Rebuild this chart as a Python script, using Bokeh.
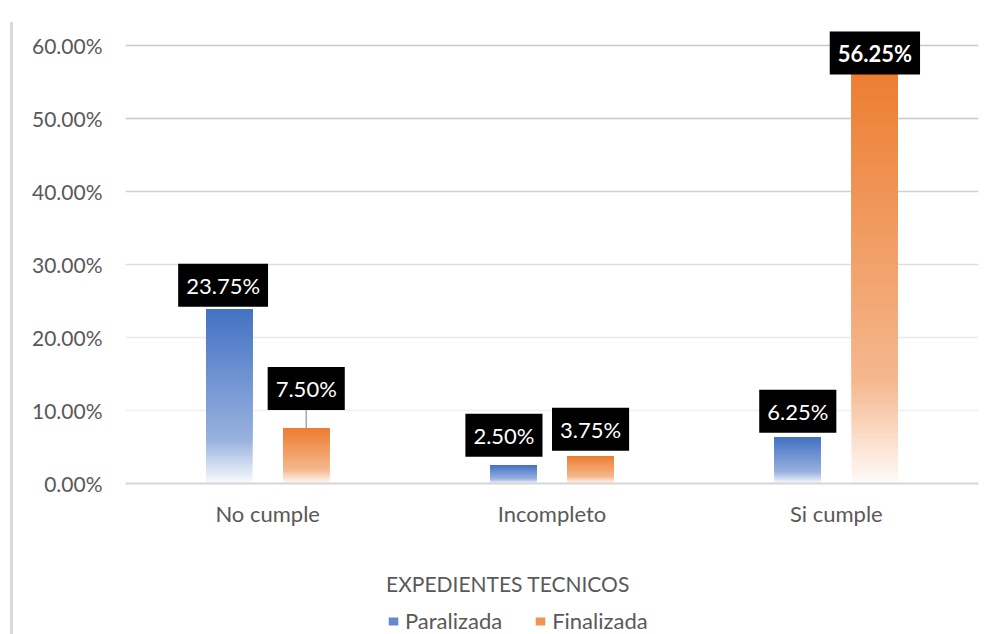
import numpy as np
from bokeh.plotting import figure
from bokeh.models import (ColumnDataSource, FactorRange, Range1d, FixedTicker,
                          PrintfTickFormatter, Grid, Legend, LegendItem, Label, Div)
from bokeh.layouts import row
from bokeh.transform import dodge
from bokeh.core.properties import value
from bokeh.embed import file_html
from bokeh.resources import INLINE

# ---------------- data ----------------
categories = ["No cumple", "Incompleto", "Si cumple"]
series_names = ["Paralizada", "Finalizada"]
paralizada = [23.75, 2.50, 6.25]
finalizada = [7.50, 3.75, 56.25]
y_ticks = [0, 10, 20, 30, 40, 50, 60]
axis_title = "EXPEDIENTES TECNICOS"

# ---------------- styles ----------------
FONT = "Lato"
TEXT_GRAY = "#595959"
BASE_RGB = [(68, 114, 196), (237, 125, 49)]
BAR_W = 0.162
OFFSETS = [-0.1356, 0.1356]
N_SLICES = 100
Y_MIN, Y_MAX = -20.7, 62      # lower part of the frame holds axis labels, title, legend
FRAME_H = 604
PPU = FRAME_H / (Y_MAX - Y_MIN)
# label nudges in pixels (dx, gap above bar), bold flag, leader line flag
label_style = [
    [(-6, 5.6, False, False), (-9.5, 10.7, False, False), (0, 7.4, False, False)],
    [(0, 21, False, True), (0, 7.6, False, False), (0, 0.4, True, False)],
]
BOX_HALF = 19
grid_colors = ["#D6D6D6", "#F0F0F0", "#E8E8E8", "#DEDEDE", "#D0D0D0", "#C8C8C8", "#C6C6C6"]


def shade(rgb, t):
    w = 0.6 * t if t <= 0.75 else 0.45 + (t - 0.75) / 0.25 * 0.52
    return "#%02x%02x%02x" % tuple(int(round(c + (255 - c) * w)) for c in rgb)


p = figure(x_range=FactorRange(factors=categories, range_padding=0),
           y_range=Range1d(Y_MIN, Y_MAX),
           width=981, height=634, output_backend="svg", toolbar_location=None,
           min_border_left=112, min_border_right=16, min_border_top=30,
           min_border_bottom=0)
p.outline_line_color = None
p.xgrid.visible = False
p.ygrid.visible = False

for t, c in zip(y_ticks, grid_colors):
    if t == 0:
        continue
    g = Grid(dimension=1, ticker=FixedTicker(ticks=[t]), grid_line_color=c,
             grid_line_width=1.5)
    p.add_layout(g)

renderers = []
for s, vals in enumerate([paralizada, finalizada]):
    cat, bot, top, col = [], [], [], []
    for ci, v in enumerate(vals):
        for k in range(N_SLICES):
            cat.append(categories[ci])
            bot.append(v * k / N_SLICES)
            top.append(v)
            col.append(shade(BASE_RGB[s], 1 - (k + 0.5) / N_SLICES))
    src = ColumnDataSource(dict(cat=cat, bottom=bot, top=top, color=col))
    r = p.vbar(x=dodge("cat", OFFSETS[s], range=p.x_range), width=BAR_W,
               bottom="bottom", top="top", source=src, fill_color="color",
               line_color=None)
    renderers.append(r)

# leader lines and labels
for s, vals in enumerate([paralizada, finalizada]):
    lc, ly0, ly1 = [], [], []
    cat, val, txt, xo, yo, fs = [], [], [], [], [], []
    for ci, v in enumerate(vals):
        dx, gap, bold, leader = label_style[s][ci]
        cat.append(categories[ci]); val.append(v); txt.append(f"{v:.2f}%")
        xo.append(dx); yo.append(-(gap + BOX_HALF))
        fs.append("bold" if bold else "normal")
        if leader:
            lc.append(categories[ci]); ly0.append(v); ly1.append(v + gap / PPU)
    if lc:
        lsrc = ColumnDataSource(dict(cat=lc, y0=ly0, y1=ly1))
        p.segment(x0=dodge("cat", OFFSETS[s], range=p.x_range), y0="y0",
                  x1=dodge("cat", OFFSETS[s], range=p.x_range), y1="y1",
                  source=lsrc, line_color="#A6A6A6", line_width=1.5)
    tsrc = ColumnDataSource(dict(cat=cat, value=val, text=txt, xo=xo, yo=yo, fs=fs))
    p.text(x=dodge("cat", OFFSETS[s], range=p.x_range), y="value", text="text",
           source=tsrc, x_offset="xo", y_offset="yo", text_font_style="fs",
           text_font=value(FONT), text_font_size="22px", text_color="white",
           text_align="center", text_baseline="middle",
           background_fill_color="black", padding=8)

# axes
p.yaxis.ticker = FixedTicker(ticks=y_ticks)
p.yaxis.formatter = PrintfTickFormatter(format="%.2f%%")
p.yaxis.axis_line_color = None
p.yaxis.major_tick_line_color = None
p.yaxis.minor_tick_line_color = None
p.yaxis.major_tick_out = 0
p.yaxis.minor_tick_out = 0
p.yaxis.major_label_standoff = 23
p.yaxis.major_label_text_font = FONT
p.yaxis.major_label_text_font_size = "21px"
p.yaxis.major_label_text_color = TEXT_GRAY

p.xaxis.fixed_location = 0
p.xaxis.axis_line_color = "#D6D6D6"
p.xaxis.axis_line_width = 2
p.xaxis.major_tick_line_color = None
p.xaxis.minor_tick_line_color = None
p.xaxis.major_tick_out = 0
p.xaxis.minor_tick_out = 0
p.xaxis.major_label_standoff = 17
p.xaxis.major_label_text_font = FONT
p.xaxis.major_label_text_font_size = "22px"
p.xaxis.major_label_text_color = TEXT_GRAY

# axis title centred on the chart area (middle category centre in synthetic coords)
title = Label(x=len(categories) / 2, y=0, x_offset=-44, y_offset=-100, text=axis_title,
              text_font=FONT, text_font_size="21px", text_color=TEXT_GRAY,
              text_align="center", text_baseline="middle")
p.add_layout(title)

legend = Legend(items=[LegendItem(label=series_names[0], renderers=[renderers[0]], index=70),
                       LegendItem(label=series_names[1], renderers=[renderers[1]], index=70)],
                orientation="horizontal", location=(262, 0),
                glyph_width=12, glyph_height=10, label_standoff=6, spacing=32,
                padding=0, margin=0, border_line_color=None,
                background_fill_alpha=0,
                label_text_font=FONT, label_text_font_size="22px",
                label_text_color=TEXT_GRAY)
p.add_layout(legend)

border = Div(text="", width=13, height=612, margin=(22, 0, 0, 0),
             styles={"border-right": "3px solid #DADADA", "box-sizing": "border-box"})
layout = row(border, p)

open("out.html", "w").write(file_html(layout, INLINE))
